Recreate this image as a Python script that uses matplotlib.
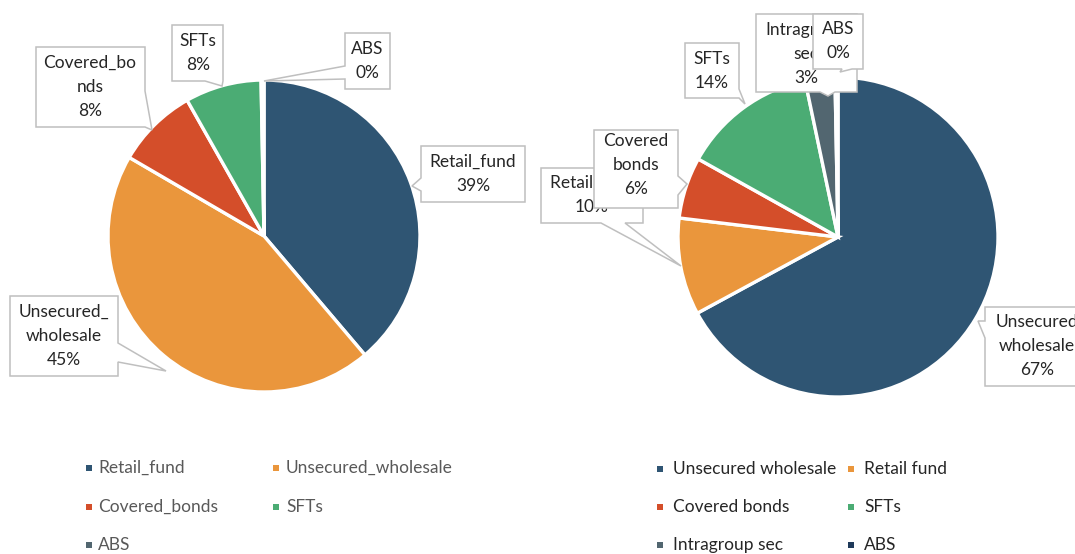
import matplotlib
matplotlib.use("Agg")
import matplotlib.pyplot as plt
from matplotlib.patches import Polygon, Rectangle

# ---- data -------------------------------------------------------------
left_categories = ["Retail_fund", "Unsecured_wholesale", "Covered_bonds", "SFTs", "ABS"]
left_values = [38.8, 44.6, 8.4, 7.9, 0.3]
left_label_names = ["Retail_fund", "Unsecured_\nwholesale", "Covered_bo\nnds", "SFTs", "ABS"]

right_categories = ["Unsecured wholesale", "Retail fund", "Covered bonds", "SFTs",
                    "Intragroup sec", "ABS"]
right_values = [67.1, 9.8, 6.2, 13.6, 3.0, 0.3]
right_label_names = ["Unsecured\nwholesale", "Retail fund", "Covered\nbonds", "SFTs",
                     "Intragroup\nsec", "ABS"]

# ---- styling ----------------------------------------------------------
BLUE, ORANGE, RED, GREEN, GREY, NAVY = "#2F5573", "#EA963C", "#D44E2A", "#4BAC74", "#526670", "#1F3A5A"
left_colors = [BLUE, ORANGE, RED, GREEN, GREY]
right_colors = [BLUE, ORANGE, RED, GREEN, GREY, NAVY]

FONT = ["Lato", "DejaVu Sans"]
plt.rcParams["font.family"] = FONT
FS = 12.5

W, H = 1075, 554
fig = plt.figure(figsize=(W / 100, H / 100), dpi=100)
ax = fig.add_axes([0, 0, 1, 1])


def Y(y):
    """Convert a top-down pixel row to the axes' bottom-up coordinate."""
    return H - y


def callout(box, side, base, tip, text, tx, ty, z):
    x0, y0, x1, y1 = box
    a, b = base
    px, py = tip
    pts = [(x0, y0)]
    if side == "top":
        pts += [(a, y0), (px, py), (b, y0)]
    pts += [(x1, y0)]
    if side == "right":
        pts += [(x1, a), (px, py), (x1, b)]
    pts += [(x1, y1)]
    if side == "bottom":
        pts += [(b, y1), (px, py), (a, y1)]
    pts += [(x0, y1)]
    if side == "left":
        pts += [(x0, b), (px, py), (x0, a)]
    poly = Polygon([(x, Y(y)) for x, y in pts], closed=True, fc="white",
                   ec="#BFBFBF", lw=1.1, zorder=z, joinstyle="miter")
    ax.add_patch(poly)
    ax.text(tx, Y(ty), text, ha="center", va="center", fontsize=FS,
            color="#262626", linespacing=1.6, zorder=z + 0.5, clip_on=True)


def pct(values):
    total = sum(values)
    return [f"{round(v / total * 100):.0f}%" for v in values]


wedge_style = dict(edgecolor="white", linewidth=2.4)

# left pie
ax.pie(left_values, colors=left_colors, startangle=90, counterclock=False,
       center=(264, Y(236)), radius=156, wedgeprops=wedge_style)
# right pie
ax.pie(right_values, colors=right_colors, startangle=90, counterclock=False,
       center=(838, Y(237)), radius=160, wedgeprops=wedge_style)

ax.set_xlim(0, W)
ax.set_ylim(0, H)
ax.set_axis_off()

# data-label callouts: (box, pointer side, pointer base, pointer tip, text centre)
left_callouts = [
    ((421, 146, 525, 202), "left", (178, 191), (412, 186), (473, 174)),
    ((10, 296, 118, 376), "right", (343, 362), (166, 371), (64, 336)),
    ((36, 47, 145, 127), "right", (91, 127), (152, 130), (90, 87)),
    ((172, 25, 223, 81), "bottom", (205, 223), (222, 86), (198, 53)),
    ((345, 33, 390, 89), "left", (66, 79), (264, 81), (367, 61)),
]
right_callouts = [
    ((985, 307, 1090, 386), "left", (321, 338), (978, 321), (1037, 346)),
    ((541, 168, 643, 223), "bottom", (601, 625), (681, 266), (592, 195)),
    ((594, 130, 678, 208), "right", (176, 195), (687, 184), (636, 165)),
    ((685, 43, 739, 98), "right", (89, 98), (745, 104), (712, 71)),
    ((756, 14, 857, 92), "bottom", (820, 835), (828, 96), (806, 54)),
    ((813, 14, 863, 69), "bottom", (842, 852), (840, 72), (838, 41)),
]

for i, (names, vals, cfg) in enumerate(((left_label_names, left_values, left_callouts),
                                         (right_label_names, right_values, right_callouts))):
    for j, (name, p, c) in enumerate(zip(names, pct(vals), cfg)):
        box, side, base, tip, (tx, ty) = c
        callout(box, side, base, tip, f"{name}\n{p}", tx, ty, z=5 + j)

# legends (two columns, three rows)
def legend(categories, colors, col_x, rows_y, text_color):
    for k, (cat, col) in enumerate(zip(categories, colors)):
        mx, tx = col_x[k % 2]
        y = rows_y[k // 2]
        ax.add_patch(Rectangle((mx, Y(y) - 3), 6, 6, fc=col, ec="none"))
        ax.text(tx, Y(y), cat, ha="left", va="center", fontsize=FS,
                color=text_color)


legend(left_categories, left_colors, [(86, 98), (273, 286)], [468, 507, 545], "#595959")
legend(right_categories, right_colors, [(657, 673), (848, 864)], [469, 507, 545], "#262626")

fig.savefig("out.png", dpi=100)
